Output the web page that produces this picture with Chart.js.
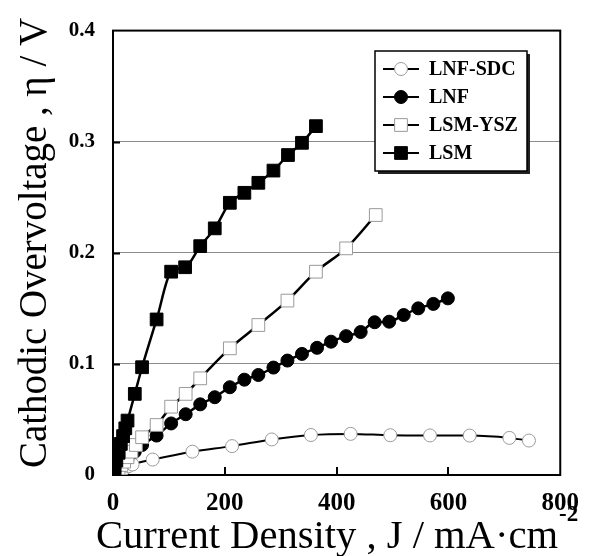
<!DOCTYPE html>
<html><head><meta charset="utf-8">
<script src="https://cdn.jsdelivr.net/npm/chart.js@4/dist/chart.umd.min.js"></script>
<style>html,body{margin:0;padding:0;background:#fff}#wrap{width:593px;height:556px;position:relative}</style>
</head><body><div id="wrap"><canvas id="c" width="593" height="556"></canvas></div>
<script>
// ---- data ----
const seriesNames = ['LNF-SDC', 'LNF', 'LSM-YSZ', 'LSM'];

const lnfSdcJ   = [0, 7, 14, 21, 28, 35, 71, 142, 213, 284, 354, 425, 496, 567, 638, 709, 744];
const lnfSdcEta = [0, 0.002, 0.004, 0.006, 0.008, 0.0095, 0.0139, 0.021, 0.026, 0.032, 0.036, 0.037, 0.0358, 0.0356, 0.0355, 0.0334, 0.031];

const lnfJ   = [0, 5, 10, 15, 20, 26, 39, 52, 78, 104, 130, 156, 182, 209, 235, 260, 287, 312, 338, 365, 390, 417, 443, 468, 494, 520, 546, 573, 599];
const lnfEta = [0, 0.003, 0.006, 0.009, 0.012, 0.015, 0.021, 0.027, 0.0355, 0.0464, 0.0547, 0.0636, 0.070, 0.079, 0.0858, 0.090, 0.0967, 0.103, 0.109, 0.1145, 0.120, 0.125, 0.1287, 0.1375, 0.138, 0.144, 0.150, 0.154, 0.159];

const lsmYszJ   = [0, 5, 10, 15, 20, 26, 33, 41, 52, 78, 104, 130, 156, 209, 260, 312, 363, 417, 470];
const lsmYszEta = [0, 0.003, 0.006, 0.009, 0.012, 0.016, 0.021, 0.027, 0.034, 0.045, 0.0615, 0.073, 0.087, 0.114, 0.135, 0.157, 0.183, 0.204, 0.234];

const lsmJ   = [0, 3, 6, 10, 14, 18, 22, 26, 39, 52, 78, 104, 129, 156, 182, 209, 235, 260, 287, 313, 338, 363];
const lsmEta = [0, 0.006, 0.013, 0.020, 0.028, 0.035, 0.042, 0.049, 0.073, 0.097, 0.140, 0.183, 0.187, 0.206, 0.222, 0.245, 0.254, 0.263, 0.274, 0.288, 0.299, 0.314];

const xTickValues = [0, 200, 400, 600, 800];
const yTickValues = [0, 0.1, 0.2, 0.3, 0.4];
const xTitleText = 'Current Density , J / mA\u00B7cm';
const xTitleSup = '-2';
const yTitleText = 'Cathodic Overvoltage , \u03B7 / V';

// ---- build ----
const pts = (xs, ys) => xs.map((x, i) => ({x: x, y: ys[i]}));
const SERIF = "'Liberation Serif', 'Times New Roman', serif";

const dsLnfSdc = {label: seriesNames[0], data: pts(lnfSdcJ, lnfSdcEta), order: 3,
  borderColor: '#000', borderWidth: 2, pointStyle: 'circle', pointRadius: 6.5,
  pointBackgroundColor: '#fff', pointBorderColor: '#9a9a9a', pointBorderWidth: 1};
const dsLnf = {label: seriesNames[1], data: pts(lnfJ, lnfEta), order: 2,
  borderColor: '#000', borderWidth: 2.5, pointStyle: 'circle', pointRadius: 6.5,
  pointBackgroundColor: '#000', pointBorderColor: '#000', pointBorderWidth: 1};
const dsLsmYsz = {label: seriesNames[2], data: pts(lsmYszJ, lsmYszEta), order: 1,
  borderColor: '#000', borderWidth: 2.5, pointStyle: 'rect', pointRadius: 9,
  pointBackgroundColor: '#fff', pointBorderColor: '#9a9a9a', pointBorderWidth: 1};
const dsLsm = {label: seriesNames[3], data: pts(lsmJ, lsmEta), order: 0,
  borderColor: '#000', borderWidth: 2.5, pointStyle: 'rect', pointRadius: 9,
  pointBackgroundColor: '#000', pointBorderColor: '#000', pointBorderWidth: 1};

const datasets = [dsLnfSdc, dsLnf, dsLsmYsz, dsLsm].map(d => Object.assign({
  showLine: true, fill: false, cubicInterpolationMode: 'monotone', pointHoverRadius: 0
}, d));

const framePlugin = {
  id: 'frame',
  beforeDatasetsDraw(chart) {
    const {ctx, chartArea: a, scales} = chart;
    ctx.save();
    ctx.strokeStyle = '#000';
    ctx.lineWidth = 2;
    ctx.beginPath();
    yTickValues.forEach(v => {
      if (v <= 0 || v >= 0.4) return;
      const y = Math.round(scales.y.getPixelForValue(v)) + 0.5;
      ctx.moveTo(a.left, y); ctx.lineTo(a.left + 7, y);
    });
    xTickValues.forEach(v => {
      if (v <= 0 || v >= 800) return;
      const x = Math.round(scales.x.getPixelForValue(v));
      ctx.moveTo(x, a.bottom); ctx.lineTo(x, a.bottom - 8);
    });
    ctx.stroke();
    ctx.strokeRect(a.left, a.top, a.right - a.left, a.bottom - a.top);
    ctx.restore();
  },
  afterDraw(chart) {
    const {ctx} = chart;
    ctx.save();
    // x title
    ctx.fillStyle = '#000';
    ctx.font = '40px ' + SERIF;
    ctx.textBaseline = 'alphabetic';
    ctx.textAlign = 'left';
    const wMain = ctx.measureText(xTitleText).width;
    const targetMain = 462;
    ctx.save();
    ctx.translate(96, 548);
    ctx.scale(targetMain / wMain, 1);
    ctx.fillText(xTitleText, 0, 0);
    ctx.restore();
    ctx.font = 'bold 23px ' + SERIF;
    ctx.fillText(xTitleSup, 96 + targetMain + 1, 521);
    // y title
    ctx.font = '40px ' + SERIF;
    const wy = ctx.measureText(yTitleText).width;
    const targetY = 450;
    ctx.save();
    ctx.translate(46, 468);
    ctx.rotate(-Math.PI / 2);
    ctx.scale(targetY / wy, 1);
    ctx.fillText(yTitleText, 0, 0);
    ctx.restore();

    // legend
    const bx = 375, by = 51, bw = 152, bh = 120;
    ctx.fillStyle = '#222';
    ctx.fillRect(bx + 3, by + 3, bw, bh);
    ctx.fillStyle = '#fff';
    ctx.fillRect(bx, by, bw, bh);
    ctx.strokeStyle = '#000';
    ctx.lineWidth = 1.5;
    ctx.strokeRect(bx, by, bw, bh);
    const rows = [dsLnfSdc, dsLnf, dsLsmYsz, dsLsm];
    rows.forEach((d, i) => {
      const y = 69 + i * 28;
      ctx.strokeStyle = '#000';
      ctx.lineWidth = 2;
      ctx.beginPath(); ctx.moveTo(383, y); ctx.lineTo(419, y); ctx.stroke();
      ctx.fillStyle = d.pointBackgroundColor;
      ctx.strokeStyle = d.pointBorderColor;
      ctx.lineWidth = d.pointBorderWidth;
      Chart.helpers.drawPoint(ctx, {pointStyle: d.pointStyle, rotation: 0, radius: d.pointRadius, borderWidth: d.pointBorderWidth}, 401, y);
      ctx.fillStyle = '#000';
      ctx.font = 'bold 20px ' + SERIF;
      ctx.textBaseline = 'middle';
      ctx.fillText(d.label, 429, y + 1);
    });
    ctx.restore();
  }
};

new Chart(document.getElementById('c'), {
  type: 'line',
  data: {datasets: datasets},
  options: {
    responsive: false,
    animation: false,
    devicePixelRatio: 1,
    layout: {padding: {left: 0, right: 27, top: 24, bottom: 0}},
    plugins: {legend: {display: false}, tooltip: {enabled: false}},
    events: [],
    scales: {
      x: {
        type: 'linear', min: 0, max: 800,
        afterFit: s => { s.height = 81; },
        afterBuildTicks: s => { s.ticks = xTickValues.map(v => ({value: v})); },
        ticks: {font: {family: SERIF, size: 25, weight: 'bold'}, color: '#000', padding: 14, maxRotation: 0,
          callback: v => String(v)},
        grid: {display: false, drawTicks: false},
        border: {display: false}
      },
      y: {
        type: 'linear', min: 0, max: 0.4,
        afterFit: s => { s.width = 113; },
        afterBuildTicks: s => { s.ticks = yTickValues.map(v => ({value: v})); },
        ticks: {font: {family: SERIF, size: 21, weight: 'bold'}, color: '#000', padding: 18,
          callback: v => v === 0 ? '0' : v.toFixed(1)},
        grid: {drawTicks: false, lineWidth: 1,
          color: c => (c.tick && c.tick.value > 0.001 && c.tick.value < 0.399) ? '#8c8c8c' : 'rgba(0,0,0,0)'},
        border: {display: false}
      }
    }
  },
  plugins: [framePlugin]
});
</script></body></html>
